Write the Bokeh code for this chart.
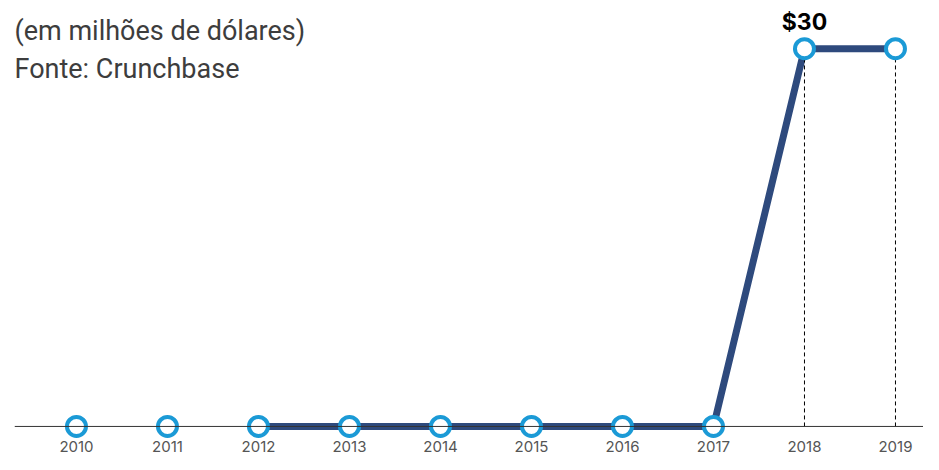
from bokeh.plotting import figure
from bokeh.models import Range1d, Span, Label, FixedTicker
from bokeh.core.properties import value
from bokeh.embed import file_html
from bokeh.resources import INLINE

years = [2010, 2011, 2012, 2013, 2014, 2015, 2016, 2017, 2018, 2019]
tick_labels = ["2010", "2011", "2012", "2013", "2014", "2015", "2016", "2017", "2018", "2019"]
invest = [0, 0, 0, 0, 0, 0, 0, 0, 30, 30]
line_from = 2012
subtitle = "(em milhões de dólares)"
source_txt = "Fonte: Crunchbase"
value_label = "$30"

W, H = 923, 454
FH = 436  # frame height (axis panel below takes the rest)
p = figure(width=W, height=H, output_backend="svg", toolbar_location=None,
           x_range=Range1d(2009.319, 2019.308), y_range=Range1d(-0.957, 33.83),
           min_border=0, min_border_left=14, outline_line_color=None)
p.grid.visible = False
p.yaxis.visible = False
p.background_fill_color = "white"
p.border_fill_color = "white"

xa = p.xaxis[0]
xa.ticker = FixedTicker(ticks=years)
xa.major_label_overrides = {y: t for y, t in zip(years, tick_labels)}
xa.axis_line_color = None
xa.major_tick_line_color = None
xa.minor_tick_line_color = None
xa.major_tick_out = 0
xa.major_tick_in = 0
xa.major_label_standoff = 2
xa.major_label_text_font = "Inter"
xa.major_label_text_font_size = "15px"
xa.major_label_text_color = "#555555"

line_x = [x for x in years if x >= line_from]
line_y = [v for x, v in zip(years, invest) if x >= line_from]
p.line(line_x, line_y, line_color="#2e4a7d", line_width=7, line_join="round")

base = Span(location=0, dimension="width", line_color="#333333", line_width=1)
p.add_layout(base)

pos_x = [x for x, v in zip(years, invest) if v > 0]
pos_y = [v for v in invest if v > 0]
p.segment(x0=pos_x, y0=[0] * len(pos_x), x1=pos_x, y1=pos_y,
          line_color="black", line_width=1, line_dash="4 3")

p.scatter(years, invest, size=19, fill_color="white", line_color="#1b9ad6", line_width=4)

p.text(x=[pos_x[0]], y=[pos_y[0]], text=[value_label], text_align="center",
       text_baseline="bottom", y_offset=-13, text_font=value("Inter"),
       text_font_size="23px", text_font_style="bold", text_color="black")

p.add_layout(Label(x=0, y=FH - 28, x_units="screen", y_units="screen", text=subtitle,
                   text_baseline="alphabetic", text_font="Roboto", text_font_size="27px",
                   text_color="#3d3d3d"))
p.add_layout(Label(x=0, y=FH - 66, x_units="screen", y_units="screen", text=source_txt,
                   text_baseline="alphabetic", text_font="Roboto", text_font_size="27px",
                   text_color="#3d3d3d"))

open("out.html", "w").write(file_html(p, INLINE))
